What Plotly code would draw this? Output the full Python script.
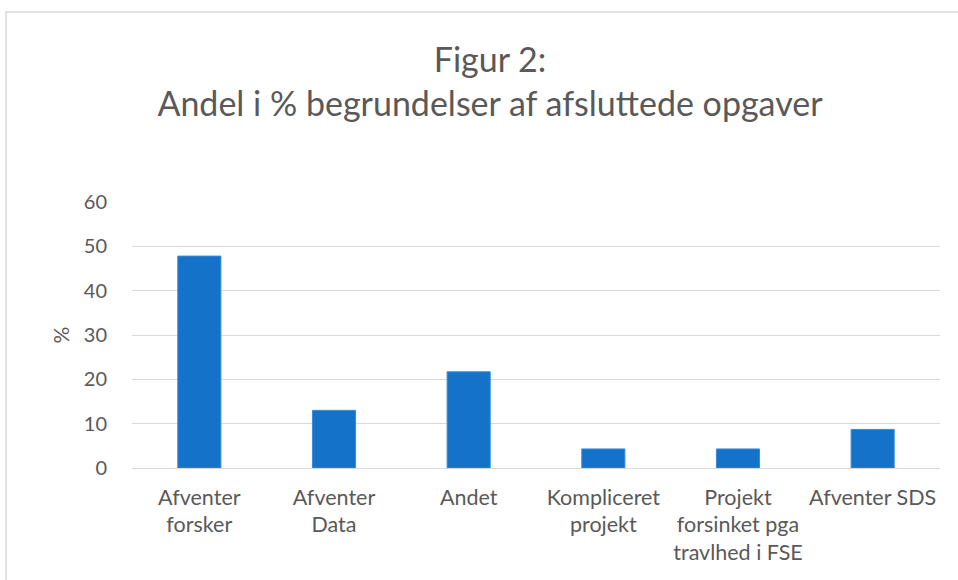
import plotly.graph_objects as go

categories = ["Afventer<br>forsker", "Afventer<br>Data", "Andet", "Kompliceret<br>projekt",
              "Projekt<br>forsinket pga<br>travlhed i FSE", "Afventer SDS"]
values = [47.8, 13.0, 21.7, 4.3, 4.3, 8.7]
y_ticks = [0, 10, 20, 30, 40, 50, 60]

W, H = 958, 580
L, R, T, B = 132, 18, 202, 112
pw, ph = W - L - R, H - T - B

FONT = "Lato"
GREY = "#595959"

fig = go.Figure(go.Bar(
    x=categories, y=values,
    marker=dict(color="#1473C8", line=dict(color="#3b8ad6", width=1)),
    width=0.32,
))

def px_x(x):
    return (x - L) / pw
def px_y(y):
    return (H - B - y) / ph

fig.add_shape(type="rect", xref="paper", yref="paper",
              x0=px_x(6), x1=px_x(990), y0=px_y(600), y1=px_y(12),
              line=dict(color="#d9d9d9", width=1.5), layer="below")

fig.update_layout(
    width=W, height=H,
    margin=dict(l=L, r=R, t=T, b=B, autoexpand=False),
    paper_bgcolor="white", plot_bgcolor="white",
    title=dict(text="Figur 2:<br>Andel i % begrundelser af afsluttede opgaver",
               x=490 / W, xref="container", xanchor="center",
               y=1 - 72 / H, yref="container", yanchor="middle",
               font=dict(family=FONT, size=34, color=GREY)),
    showlegend=False,
    font=dict(family=FONT, size=21, color=GREY),
    bargap=0.68,
)
fig.update_yaxes(range=[0, 60], tickvals=y_ticks, showgrid=True, gridcolor="#d9d9d9",
                 gridwidth=1.3, zeroline=True, zerolinecolor="#d9d9d9", zerolinewidth=1.3,
                 showline=False, ticks="", ticklabelstandoff=24,
                 tickfont=dict(family=FONT, size=20, color=GREY),
                 title=dict(text="%", standoff=8, font=dict(family=FONT, size=21, color=GREY)))
fig.update_xaxes(showline=False, ticks="", ticklabelstandoff=14,
                 tickfont=dict(family=FONT, size=21.5, color=GREY), tickangle=0)

fig.write_html("out.html", post_script="document.body.style.margin='0';",
               config={"displayModeBar": False})
